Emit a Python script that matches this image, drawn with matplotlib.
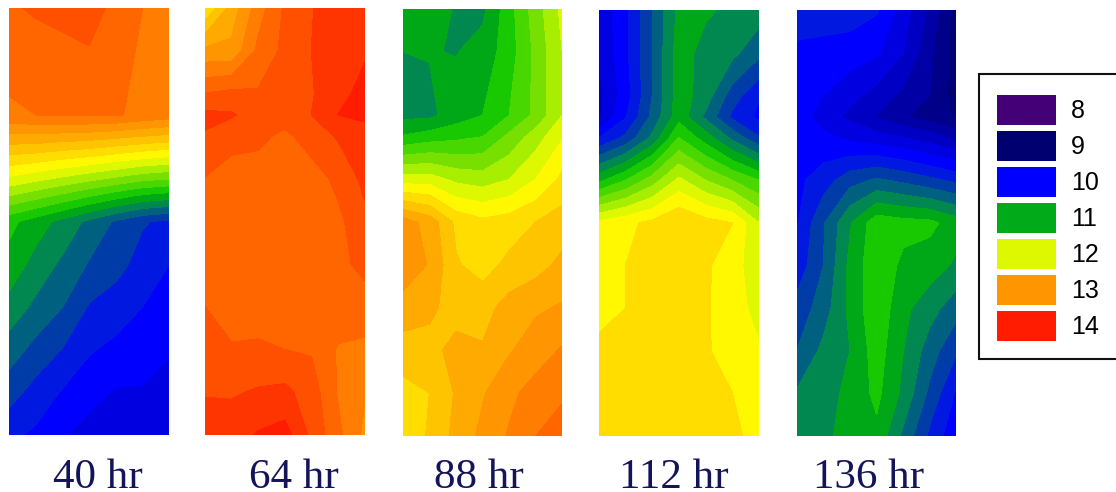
import numpy as np
import matplotlib
matplotlib.use('Agg')
import matplotlib.pyplot as plt
from matplotlib.colors import ListedColormap, BoundaryNorm
from matplotlib.patches import Rectangle

W, H = 1116, 492

# Valores (filas de arriba a abajo, columnas de izq. a der.)
filas_a = [0, .1, .25, .3, .4, .5, .6, .7, .8, .9, 1]
filas_b = [0, .1, .2, .25, .3, .4, .5, .6, .7, .8, .9, 1]

hr40 = [
    [13.45, 13.55, 13.65, 13.65, 13.40, 13.30, 13.20],
    [13.42, 13.35, 13.38, 13.48, 13.38, 13.27, 13.20],
    [13.25, 13.30, 13.32, 13.32, 13.32, 13.25, 13.20],
    [12.85, 12.85, 12.82, 12.80, 12.75, 12.70, 12.65],
    [12.05, 11.95, 11.85, 11.75, 11.65, 11.55, 11.50],
    [11.15, 11.00, 10.83, 10.65, 10.47, 10.32, 10.25],
    [11.03, 10.82, 10.66, 10.48, 10.37, 10.22, 10.10],
    [10.82, 10.65, 10.50, 10.28, 10.20, 10.10, 9.98],
    [10.60, 10.43, 10.29, 10.12, 10.05, 10.00, 9.92],
    [10.38, 10.22, 10.08, 9.97, 9.88, 9.88, 9.80],
    [10.15, 10.06, 9.92, 9.82, 9.80, 9.80, 9.75],
]
hr64 = [
    [12.30, 12.78, 13.20, 13.53, 13.69, 13.80, 13.85],
    [12.95, 12.95, 13.35, 13.55, 13.70, 13.80, 13.88],
    [13.50, 13.55, 13.52, 13.60, 13.68, 13.85, 13.95],
    [13.75, 13.72, 13.60, 13.60, 13.70, 13.90, 13.95],
    [13.68, 13.58, 13.55, 13.45, 13.60, 13.72, 13.80],
    [13.49, 13.40, 13.40, 13.35, 13.40, 13.55, 13.75],
    [13.40, 13.33, 13.32, 13.32, 13.35, 13.45, 13.65],
    [13.40, 13.33, 13.32, 13.32, 13.35, 13.45, 13.55],
    [13.50, 13.40, 13.35, 13.35, 13.40, 13.42, 13.42],
    [13.55, 13.52, 13.55, 13.50, 13.48, 13.28, 13.25],
    [13.68, 13.68, 13.72, 13.75, 13.60, 13.28, 13.12],
    [13.85, 13.80, 13.92, 13.98, 13.65, 13.35, 13.05],
]
hr88 = [
    [11.02, 11.00, 10.88, 10.85, 11.22, 11.60, 11.95],
    [10.90, 10.91, 10.89, 10.98, 11.20, 11.55, 11.90],
    [10.85, 10.85, 11.00, 11.10, 11.30, 11.55, 11.90],
    [11.12, 11.20, 11.25, 11.30, 11.55, 11.80, 12.08],
    [12.00, 12.00, 11.85, 11.80, 11.90, 12.10, 12.35],
    [13.00, 12.82, 12.45, 12.35, 12.40, 12.50, 12.60],
    [13.05, 12.88, 12.52, 12.42, 12.55, 12.62, 12.75],
    [12.80, 12.75, 12.60, 12.62, 12.78, 12.87, 12.92],
    [12.62, 12.62, 12.78, 12.72, 12.88, 13.00, 13.12],
    [12.42, 12.50, 12.72, 12.88, 13.05, 13.18, 13.25],
    [12.38, 12.52, 12.76, 12.95, 13.12, 13.30, 13.45],
]
hr112 = [
    [9.75, 10.05, 10.50, 10.95, 10.93, 10.85, 10.80],
    [9.70, 10.05, 10.50, 11.00, 10.82, 10.75, 10.55],
    [9.65, 10.00, 10.50, 11.00, 10.80, 10.40, 10.12],
    [9.65, 10.08, 10.55, 11.02, 10.65, 10.25, 10.05],
    [10.10, 10.35, 10.75, 11.30, 11.00, 10.65, 10.32],
    [11.05, 11.30, 11.60, 11.95, 11.70, 11.50, 11.30],
    [12.15, 12.25, 12.35, 12.50, 12.38, 12.30, 11.90],
    [12.22, 12.30, 12.38, 12.42, 12.34, 12.15, 12.02],
    [12.27, 12.30, 12.38, 12.42, 12.32, 12.20, 12.02],
    [12.32, 12.36, 12.40, 12.42, 12.32, 12.22, 12.12],
    [12.40, 12.40, 12.40, 12.40, 12.38, 12.30, 12.22],
    [12.40, 12.42, 12.42, 12.42, 12.40, 12.33, 12.25],
]
hr136 = [
    [10.22, 10.22, 10.20, 10.12, 9.80, 9.45, 9.00],
    [10.05, 10.02, 10.00, 9.93, 9.70, 9.35, 9.00],
    [10.03, 9.90, 9.76, 9.62, 9.45, 9.30, 9.00],
    [10.00, 9.80, 9.65, 9.48, 9.33, 9.20, 9.08],
    [10.05, 9.95, 9.85, 9.78, 9.70, 9.60, 9.45],
    [10.05, 10.20, 10.42, 10.53, 10.45, 10.35, 10.25],
    [10.08, 10.48, 10.88, 11.22, 11.17, 11.15, 11.00],
    [10.17, 10.50, 10.95, 11.25, 11.05, 11.00, 10.86],
    [10.37, 10.60, 10.95, 11.25, 10.95, 10.78, 10.58],
    [10.50, 10.75, 10.90, 11.20, 10.90, 10.60, 10.32],
    [10.72, 10.82, 10.95, 11.15, 10.85, 10.45, 10.07],
    [10.85, 10.85, 10.98, 11.05, 10.65, 10.25, 9.95],
]
titulos = ['40 hr', '64 hr', '88 hr', '112 hr', '136 hr']
datos = [hr40, hr64, hr88, hr112, hr136]
filas = [filas_a, filas_b, filas_a, filas_b, filas_b]

# Colores de cada banda, de 8 a 14 cada 0.2
bandas = ['#440077', '#36007a', '#28007a', '#1a0078', '#0d0074',
          '#000070', '#000088', '#0000a4', '#0000c4', '#0000e0',
          '#0000ff', '#0018e0', '#003ca8', '#006080', '#008850',
          '#00a818', '#18c800', '#48d800', '#78e000', '#a8ee00',
          '#ddf800', '#fff800', '#ffdd00', '#ffc400', '#ffaa00',
          '#ff9500', '#ff7d00', '#ff6600', '#ff5000', '#ff3500', '#ff1c00']
niveles = np.arange(31 + 1) * 0.2 + 7.9
leyenda_val = ['8', '9', '10', '11', '12', '13', '14']
leyenda_col = ['#440077', '#000070', '#0000ff', '#00aa18', '#ddf800', '#ff9500', '#ff1c00']

cmap = ListedColormap(bandas)
norm = BoundaryNorm(niveles, cmap.N)

# Caja de cada panel en pixeles: izq, der, arriba, abajo, centro del titulo
cajas = [(9.3, 169, 8, 435, 98), (205, 364.7, 8, 435, 294),
         (403, 562.3, 9, 435.6, 479), (599, 759, 10.5, 435.6, 674),
         (797, 956.3, 10, 435.6, 869)]

fig = plt.figure(figsize=(W / 100, H / 100), dpi=100)
for z, ys, nombre, (x0, x1, y0, y1, xt) in zip(datos, filas, titulos, cajas):
    ax = fig.add_axes([x0 / W, 1 - y1 / H, (x1 - x0) / W, (y1 - y0) / H])
    z = np.array(z)
    xs = np.linspace(0, 1, z.shape[1])
    cs = ax.contourf(xs, ys, z, levels=niveles, cmap=cmap, norm=norm)
    cs.set_edgecolor('face')
    cs.set_linewidth(0.3)
    ax.set_ylim(1, 0)
    ax.axis('off')
    fig.text(xt / W, 1 - 488 / H, nombre, ha='center', va='baseline',
             fontsize=31, family='Liberation Serif', color='#14145a')

# Leyenda
lg = fig.add_axes([0, 0, 1, 1])
lg.set_xlim(0, W)
lg.set_ylim(H, 0)
lg.axis('off')
lg.patch.set_alpha(0)
lg.add_patch(Rectangle((978.5, 73.5), 160, 285.5, fc='white', ec='#111111', lw=1.5))
for i, (val, col) in enumerate(zip(leyenda_val, leyenda_col)):
    y = 95 + 36 * i
    lg.add_patch(Rectangle((997, y), 59, 30, fc=col, ec='none'))
    lg.text(1071, y + 15.5, val, ha='left', va='center', fontsize=18,
            family='Liberation Sans', color='black')

fig.savefig('out.png', dpi=100)
